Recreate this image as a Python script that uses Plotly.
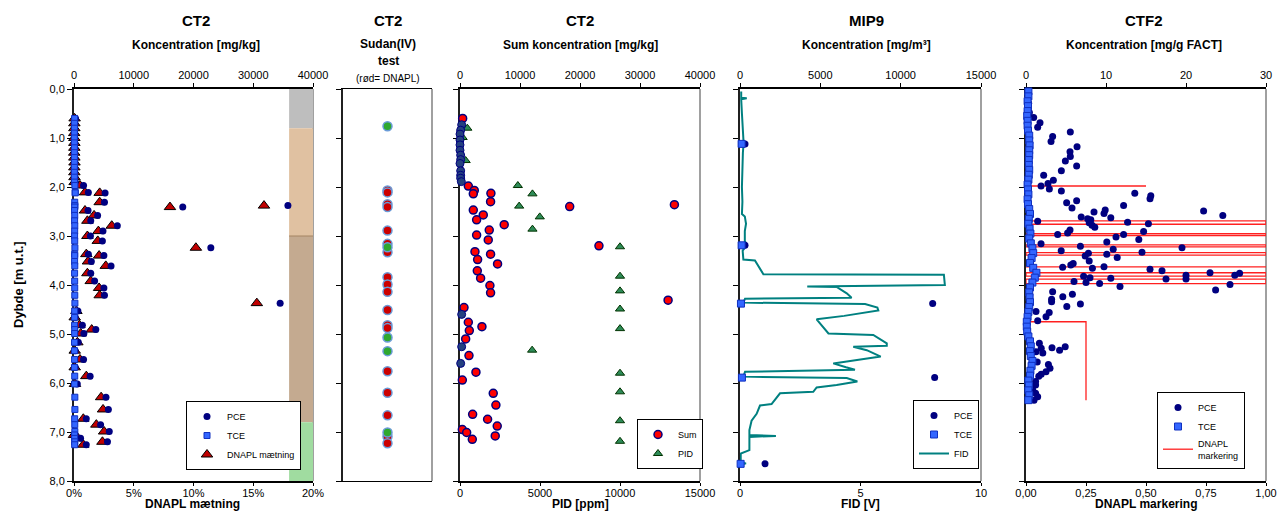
import plotly.graph_objects as go

FONT = "Liberation Sans, Arial, sans-serif"

# ---------------- Panel 1 : CT2 concentration / DNAPL saturation ----------------
ct2_depth = [0.60, 0.70, 0.80, 0.90, 1.00, 1.10, 1.20, 1.30, 1.40, 1.50, 1.60, 1.70, 1.80, 1.90,
             1.97, 2.11, 2.12, 2.31, 2.38, 2.41, 2.48, 2.58, 2.69, 2.79, 2.90, 3.00, 3.10, 3.24,
             3.37, 3.40, 3.52, 3.61, 3.76, 3.92, 4.06, 4.21, 4.37, 4.53, 4.66, 4.82, 4.91, 4.99,
             5.17, 5.34, 5.52, 5.68, 5.86, 6.02, 6.29, 6.54, 6.73, 6.85, 6.99, 7.06, 7.13, 7.20, 7.26]
ct2_dnapl_pct = [0.05, 0.03, 0.03, 0.02, 0.03, 0.03, 0.03, 0.02, 0.03, 0.04, 0.03, 0.03, 0.04, 0.05,
                 0.50, 0.92, 2.15, 2.15, 15.9, 8.03, 0.92, 1.68, 1.12, 3.16, 2.04, 1.12, 1.99, 10.2,
                 1.03, 2.10, 1.17, 2.66, 1.12, 1.40, 2.10, 2.15, 15.3, 0.20, 0.06, 0.45, 1.48, 0.56,
                 0.28, 0.06, 0.50, 0.06, 1.03, 0.08, 2.27, 2.43, 0.78, 1.87, 2.52, 0.00, 0.34, 2.38, 0.78]
ct2_pce = [250, 150, 120, 100, 120, 130, 120, 110, 120, 150, 130, 120, 150, 200,
           1600, 2400, 5200, 5100, 35800, 18200, 2350, 3950, 2800, 7250, 4850, 2750, 4750, 22900,
           2400, 5000, 2900, 6200, 2800, 3450, 5000, 5100, 34500, 650, 200, 1400, 3650, 1650,
           720, 200, 1600, 200, 2700, 550, 5350, 5750, 2050, 4450, 5900, 150, 1100, 5600, 2050]
ct2_tce = [100, 80, 80, 60, 60, 60, 70, 60, 70, 70, 60, 60, 70, 80,
           150, 200, 200, 120, 150, 120, 100, 120, 100, 130, 110, 100, 120, 150,
           110, 120, 100, 130, 100, 110, 120, 130, 150, 110, 90, 100, 120, 110,
           90, 80, 100, 80, 120, 90, 140, 150, 110, 130, 140, 90, 100, 130, 110]

soil_top = [0.0, 0.8, 3.0, 6.8]
soil_bottom = [0.8, 3.0, 6.8, 8.0]
soil_colors = ["#BEBEBE", "#E0C1A1", "#C4AA90", "#A0DCA0"]

ct2_top_ticks = [0, 10000, 20000, 30000, 40000]
ct2_top_text = ["0", "10000", "20000", "30000", "40000"]
pct_ticks = [0, 5, 10, 15, 20]
pct_text = ["0%", "5%", "10%", "15%", "20%"]
depth_ticks = [0, 1, 2, 3, 4, 5, 6, 7, 8]
depth_text = ["0,0", "1,0", "2,0", "3,0", "4,0", "5,0", "6,0", "7,0", "8,0"]

# ---------------- Panel 2 : Sudan(IV) test ----------------
sudan_depth = [0.76, 2.07, 2.11, 2.35, 2.41, 2.89, 3.16, 3.23, 3.33, 3.84, 3.99, 4.14, 4.51,
               4.82, 4.88, 5.07, 5.35, 5.76, 6.20, 6.66, 7.01, 7.09, 7.23]
sudan_result = ["grøn", "rød", "rød", "rød", "rød", "rød", "rød", "grøn", "rød", "rød", "rød", "rød", "rød",
                "rød", "rød", "grøn", "grøn", "rød", "rød", "rød", "grøn", "rød", "rød"]

# ---------------- Panel 3 : CT2 sum concentration / PID ----------------
sum_depth = [0.60, 1.98, 2.07, 2.13, 2.14, 2.30, 2.36, 2.40, 2.47, 2.57, 2.67, 2.77, 2.88, 2.98,
             3.08, 3.20, 3.32, 3.37, 3.48, 3.57, 3.71, 3.86, 4.01, 4.16, 4.31, 4.46, 4.76, 4.85,
             4.93, 5.10, 5.44, 5.78, 5.94, 6.21, 6.45, 6.64, 6.74, 6.88, 6.95, 7.01, 7.08, 7.15]
sum_conc = [443, 1385, 2382, 5152, 2216, 5097, 35734, 18283, 2216, 3878, 2770, 7368, 4875, 2770,
            4709, 23158, 2493, 5097, 2936, 6260, 2881, 3435, 4986, 5097, 34682, 665, 1385, 3656,
            1551, 942, 1496, 2659, 388, 5540, 5983, 2105, 4598, 6205, 388, 1108, 5873, 2050]
sum_low_depth = [0.73, 0.84, 0.92, 1.04, 1.14, 1.25, 1.35, 1.44, 1.52, 1.67, 1.76, 1.82, 1.89,
                 4.60, 5.26, 5.60]
sum_low_conc = [277, 111, 0, 0, 0, 0, 111, 111, 0, 111, 111, 111, 222, 277, 277, 111]
pid_depth = [0.80, 0.99, 1.46, 1.97, 2.14, 2.39, 2.61, 2.86, 3.22, 3.82, 4.12, 4.49, 4.89,
             5.33, 5.80, 6.18, 6.77, 7.19]
pid_ppm = [457, 166, 353, 3615, 4529, 3698, 4986, 4529, 10000, 10000, 10000, 10000, 10000,
           4508, 10000, 10000, 10000, 10000]
pid_ticks = [0, 5000, 10000, 15000]
pid_text = ["0", "5000", "10000", "15000"]

# ---------------- Panel 4 : MIP9 ----------------
mip_depth = [1.12, 3.19, 4.38, 5.89, 7.65]
mip_pce = [311, 311, 11992, 12116, 1556]
mip_tce = [100, 100, 60, 120, 40]
fid_depth = [0.05, 0.18, 0.19, 0.21, 0.50, 0.90, 1.10, 1.30, 1.60, 2.00, 2.30, 2.55, 2.60, 2.75,
             2.90, 3.10, 3.18, 3.30, 3.48, 3.50, 3.78, 3.79, 4.00, 4.03, 4.04, 4.17, 4.26, 4.28,
             4.36, 4.39, 4.46, 4.52, 4.63, 4.70, 4.99, 5.02, 5.19, 5.24, 5.26, 5.33, 5.46, 5.60,
             5.68, 5.73, 5.77, 5.87, 5.90, 5.97, 6.04, 6.09, 6.18, 6.21, 6.43, 6.46, 6.63, 6.77,
             6.96, 7.06, 7.08, 7.10, 7.37, 7.44, 7.62, 7.64, 7.67]
fid_volt = [0.05, 0.05, 0.28, 0.05, 0.08, 0.12, 0.15, 0.12, 0.10, 0.08, 0.10, 0.08, 0.20, 0.25,
            0.20, 0.20, 0.28, 0.11, 0.14, 0.62, 0.97, 8.46, 8.50, 2.79, 4.01, 4.43, 4.63, 0.21,
            0.14, 5.19, 5.70, 5.74, 4.32, 3.18, 3.67, 5.53, 6.09, 6.09, 4.70, 5.26, 5.84, 3.87,
            4.40, 4.77, 0.21, 0.14, 4.43, 4.87, 4.01, 3.18, 3.04, 1.66, 1.31, 0.83, 0.69, 0.48,
            0.39, 0.39, 1.49, 0.39, 0.39, 0.03, 0.03, 0.25, 0.03]
mip_top_ticks = [0, 5000, 10000, 15000]
mip_top_text = ["0", "5000", "10000", "15000"]
fid_ticks = [0, 5, 10]
fid_text = ["0", "5", "10"]

# ---------------- Panel 5 : CTF2 ----------------
ctf_pce_depth = [0.29, 0.48, 0.58, 0.69, 0.78, 0.88, 0.97, 1.07, 1.18, 1.28, 1.38, 1.47, 1.57, 1.67,
                 1.76, 1.86, 1.93, 1.98, 2.04, 2.08, 2.13, 2.18, 2.24, 2.28, 2.32, 2.38, 2.43, 2.47,
                 2.49, 2.51, 2.54, 2.58, 2.61, 2.63, 2.65, 2.67, 2.70, 2.72, 2.73, 2.75, 2.78, 2.82,
                 2.88, 2.91, 2.94, 2.97, 2.97, 3.02, 3.07, 3.12, 3.16, 3.21, 3.24, 3.27, 3.30, 3.33,
                 3.35, 3.37, 3.41, 3.44, 3.51, 3.56, 3.59, 3.63, 3.64, 3.66, 3.68, 3.71, 3.75, 3.76,
                 3.80, 3.80, 3.82, 3.85, 3.86, 3.88, 3.88, 3.93, 3.95, 3.97, 3.99, 4.03, 4.10, 4.14,
                 4.19, 4.24, 4.29, 4.34, 4.39, 4.44, 4.54, 4.56, 4.65, 4.73, 5.19, 5.26, 5.28, 5.29,
                 5.33, 5.36, 5.39, 5.57, 5.62, 5.70, 5.77, 5.82, 5.86, 5.97, 6.04, 6.14, 6.21, 6.28, 6.35]
ctf_pce = [0.33, 0.42, 0.96, 1.75, 1.46, 5.54, 3.33, 3.13, 6.38, 5.50, 5.54, 4.92, 6.33, 4.42,
           2.21, 3.42, 2.75, 1.88, 2.92, 4.42, 13.6, 15.6, 15.5, 6.33, 5.08, 12.2, 5.75, 9.9,
           22.2, 8.5, 9.75, 24.6, 6.9, 10.6, 7.7, 8.1, 1.46, 12.7, 7.9, 15.3, 8.25, 8.6,
           5.5, 14.7, 5.2, 3.96, 12.2, 11.25, 14.1, 10.1, 1.88, 6.8, 19.5, 10.9, 4.4, 14.5,
           7.8, 10.1, 7.4, 11.4, 7.9, 5.9, 5.6, 9.75, 4.58, 8.3, 15.5, 17.0, 23.0, 26.7,
           20.0, 26.1, 7.2, 8.0, 10.6, 20.0, 17.5, 6.0, 7.5, 9.2, 25.5, 11.75, 23.7, 3.33,
           5.8, 4.6, 3.2, 3.2, 6.8, 5.1, 1.25, 2.9, 2.5, 1.46, 1.67, 4.9, 3.25, 1.9,
           4.2, 1.25, 2.1, 1.4, 2.8, 3.0, 2.5, 1.9, 1.6, 1.2, 1.2, 0.83, 1.2, 1.46, 1.0]
ctf_tce_depth = [0.05, 0.15, 0.25, 0.35, 0.45, 0.55, 0.65, 0.75, 0.85, 0.95, 1.05, 1.15, 1.25, 1.35,
                 1.45, 1.55, 1.65, 1.75, 1.85, 1.95, 2.05, 2.15, 2.25, 2.35, 2.45, 2.55, 2.65, 2.75,
                 2.85, 2.95, 3.05, 3.15, 3.25, 3.35, 3.45, 3.55, 3.65, 3.75, 3.85, 3.95, 4.05, 4.15,
                 4.25, 4.35, 4.45, 4.55, 4.65, 4.75, 4.85, 4.95, 5.05, 5.15, 5.25, 5.35, 5.45, 5.55,
                 5.65, 5.75, 5.85, 5.95, 6.05, 6.15, 6.25, 6.35]
ctf_tce = [0.30, 0.30, 0.20, 0.25, 0.20, 0.15, 0.20, 0.20, 0.25, 0.40, 0.40, 0.45, 0.40, 0.40,
           0.35, 0.35, 0.40, 0.35, 0.30, 0.20, 0.25, 0.30, 0.20, 0.25, 0.40, 0.50, 0.35, 0.30,
           0.45, 0.55, 0.40, 0.60, 0.80, 0.90, 0.70, 0.50, 0.90, 1.30, 1.10, 0.80, 0.50, 0.40,
           0.45, 0.50, 0.40, 0.30, 0.20, 0.10, 0.10, 0.15, 0.30, 0.50, 0.60, 0.50, 0.60, 0.80,
           0.70, 0.55, 0.50, 0.30, 0.35, 0.30, 0.40, 0.30]
mark_value = [0, 0.5, None,
              0, 1, 1, 0, 0, None,
              0, 1, 1, 0, 0, None,
              0, 1, 1, 0, 0, None,
              0, 1, 1, 0, 0, None,
              0, 1, None,
              0, 1, 1, 0, 0, None,
              0, 1, 1, 0, 0, None,
              0, 0.25, 0.25]
mark_depth = [1.98, 1.98, None,
              2.69, 2.69, 2.76, 2.76, 2.69, None,
              2.95, 2.95, 2.99, 2.99, 2.95, None,
              3.18, 3.18, 3.22, 3.22, 3.18, None,
              3.34, 3.34, 3.39, 3.39, 3.34, None,
              3.63, 3.63, None,
              3.75, 3.75, 3.82, 3.82, 3.75, None,
              3.88, 3.88, 3.97, 3.97, 3.88, None,
              4.75, 4.75, 6.35]
ctf_top_ticks = [0, 10, 20, 30]
ctf_top_text = ["0", "10", "20", "30"]
mark_ticks = [0, 0.25, 0.5, 0.75, 1.0]
mark_text = ["0,00", "0,25", "0,50", "0,75", "1,00"]

# ---------------- layout geometry ----------------
W, H = 1278, 512
panels_px = [(74, 313), (343, 432), (460, 700), (740, 981), (1026, 1266)]
y_dom = [1 - 481 / H, 1 - 89 / H]

NAVY = "#000080"
TCE_FILL = "#3366FF"
TCE_LINE = "#1030C0"

fig = go.Figure()


def xb(i):
    return "x" if i == 1 else f"x{2 * i - 1}"


def xt(i):
    return f"x{2 * i}"


def yn(i):
    return "y" if i == 1 else f"y{i}"


# Panel 1
fig.add_trace(go.Scatter(x=ct2_pce, y=ct2_depth, xaxis=xt(1), yaxis=yn(1), mode="markers", name="PCE",
                         marker=dict(symbol="circle", size=7, color=NAVY), legend="legend", cliponaxis=False))
fig.add_trace(go.Scatter(x=ct2_tce, y=ct2_depth, xaxis=xt(1), yaxis=yn(1), mode="markers", name="TCE",
                         marker=dict(symbol="square", size=6, color=TCE_FILL, line=dict(color=TCE_LINE, width=1)),
                         legend="legend", cliponaxis=False))
fig.add_trace(go.Scatter(x=ct2_dnapl_pct, y=ct2_depth, xaxis=xb(1), yaxis=yn(1), mode="markers",
                         name="DNAPL mætning",
                         marker=dict(symbol="triangle-up", size=10, color="#C00000", line=dict(color="black", width=1)),
                         legend="legend", cliponaxis=False))

# Panel 2
red_d = [d for d, r in zip(sudan_depth, sudan_result) if r == "rød"]
green_d = [d for d, r in zip(sudan_depth, sudan_result) if r == "grøn"]
fig.add_trace(go.Scatter(x=["test"] * len(red_d), y=red_d, xaxis=xb(2), yaxis=yn(2), mode="markers",
                         marker=dict(size=9, color="#CC0000", line=dict(color="#6A9BD8", width=1.5)),
                         showlegend=False))
fig.add_trace(go.Scatter(x=["test"] * len(green_d), y=green_d, xaxis=xb(2), yaxis=yn(2), mode="markers",
                         marker=dict(size=9, color="#2FA82F", line=dict(color="#6A9BD8", width=1.5)),
                         showlegend=False))

# Panel 3
fig.add_trace(go.Scatter(x=sum_conc, y=sum_depth, xaxis=xt(3), yaxis=yn(3), mode="markers", name="Sum",
                         marker=dict(size=8, color="#FF0000", line=dict(color=NAVY, width=1.5)),
                         legend="legend2", cliponaxis=False))
fig.add_trace(go.Scatter(x=sum_low_conc, y=sum_low_depth, xaxis=xt(3), yaxis=yn(3), mode="markers",
                         marker=dict(size=8, color="#24407F", line=dict(color=NAVY, width=1)),
                         showlegend=False, cliponaxis=False))
fig.add_trace(go.Scatter(x=pid_ppm, y=pid_depth, xaxis=xb(3), yaxis=yn(3), mode="markers", name="PID",
                         marker=dict(symbol="triangle-up", size=8, color="#2E8B57", line=dict(color="#003300", width=1)),
                         legend="legend2", cliponaxis=False))

# Panel 4
fig.add_trace(go.Scatter(x=fid_volt, y=fid_depth, xaxis=xb(4), yaxis=yn(4), mode="lines", name="FID",
                         line=dict(color="#008080", width=2), legend="legend3", legendrank=3, cliponaxis=False))
fig.add_trace(go.Scatter(x=mip_pce, y=mip_depth, xaxis=xt(4), yaxis=yn(4), mode="markers", name="PCE",
                         marker=dict(size=7, color=NAVY), legend="legend3", legendrank=1, cliponaxis=False))
fig.add_trace(go.Scatter(x=mip_tce, y=mip_depth, xaxis=xt(4), yaxis=yn(4), mode="markers", name="TCE",
                         marker=dict(symbol="square", size=7, color=TCE_FILL, line=dict(color=TCE_LINE, width=1)),
                         legend="legend3", legendrank=2, cliponaxis=False))

# Panel 5
fig.add_trace(go.Scatter(x=ctf_pce, y=ctf_pce_depth, xaxis=xt(5), yaxis=yn(5), mode="markers", name="PCE",
                         marker=dict(size=7, color=NAVY), legend="legend4", legendrank=1, cliponaxis=False))
fig.add_trace(go.Scatter(x=ctf_tce, y=ctf_tce_depth, xaxis=xt(5), yaxis=yn(5), mode="markers", name="TCE",
                         marker=dict(symbol="square", size=7, color=TCE_FILL, line=dict(color=TCE_LINE, width=1)),
                         legend="legend4", legendrank=2, cliponaxis=False))
fig.add_trace(go.Scatter(x=mark_value, y=mark_depth, xaxis=xb(5), yaxis=yn(5), mode="lines",
                         name="DNAPL<br>markering", line=dict(color="#FF2020", width=1.3),
                         legend="legend4", legendrank=3, connectgaps=False, cliponaxis=False))

# ---------------- axes ----------------
tickfont = dict(family=FONT, size=11, color="black")
bottom_cfg = {
    1: (pct_ticks, pct_text, [0, 20]),
    2: (None, None, [-1, 1]),
    3: (pid_ticks, pid_text, [0, 15000]),
    4: (fid_ticks, fid_text, [0, 10]),
    5: (mark_ticks, mark_text, [0, 1]),
}
top_cfg = {
    1: (ct2_top_ticks, ct2_top_text, [0, 40000]),
    2: (None, None, [-1, 1]),
    3: (ct2_top_ticks, ct2_top_text, [0, 40000]),
    4: (mip_top_ticks, mip_top_text, [0, 15000]),
    5: (ctf_top_ticks, ctf_top_text, [0, 30]),
}

layout_axes = {}
shapes = []
for i, (p0, p1) in enumerate(panels_px, start=1):
    dom = [p0 / W, p1 / W]
    ykey = "yaxis" if i == 1 else f"yaxis{i}"
    xbkey = "xaxis" if i == 1 else f"xaxis{2 * i - 1}"
    xtkey = f"xaxis{2 * i}"
    layout_axes[ykey] = dict(
        domain=y_dom, range=[8, 0], anchor=xb(i), tickvals=depth_ticks, ticktext=depth_text,
        showticklabels=(i == 1), ticks="outside", ticklen=5, tickwidth=1, tickcolor="black",
        showline=True, linecolor="#202020", linewidth=2, showgrid=False, zeroline=False,
        layer="below traces", tickfont=tickfont, fixedrange=True, automargin=False,
    )
    bt, btx, brng = bottom_cfg[i]
    xb_ax = dict(
        domain=dom, anchor=yn(i), side="bottom", range=brng, showline=True, linecolor="black",
        linewidth=1.5, showgrid=False, zeroline=False, layer="below traces", tickfont=tickfont,
        ticks="outside" if bt is not None else "", ticklen=3, tickcolor="black", automargin=False,
        ticklabelstandoff=-2,
    )
    if i == 2:
        xb_ax.update(type="category", showticklabels=False, mirror=True, linewidth=1)
    else:
        xb_ax.update(tickvals=bt, ticktext=btx)
    layout_axes[xbkey] = xb_ax
    tt, ttx, trng = top_cfg[i]
    xt_ax = dict(
        overlaying=xb(i), anchor=yn(i), side="top", range=trng, showgrid=False, zeroline=False,
        layer="below traces", tickfont=tickfont, automargin=False,
    )
    if i == 2:
        xt_ax.update(showline=False, showticklabels=False, ticks="")
    else:
        xt_ax.update(showline=True, linecolor="black", linewidth=1.5, tickvals=tt, ticktext=ttx,
                     ticks="outside", ticklen=4, tickcolor="black")
    layout_axes[xtkey] = xt_ax
    # right-hand frame line
    shapes.append(dict(type="line", xref=f"{xb(i)} domain", yref=f"{yn(i)} domain", x0=1, x1=1, y0=0, y1=1,
                       line=dict(color="#808080", width=1.5), layer="below"))

# soil layers in panel 1 (right edge, 18-20 %)
for t, b, c in zip(soil_top, soil_bottom, soil_colors):
    shapes.append(dict(type="rect", xref="x", yref="y", x0=18, x1=20, y0=t, y1=b,
                       fillcolor=c, line=dict(width=0), layer="below"))
shapes.append(dict(type="line", xref="x", yref="y", x0=18, x1=20, y0=soil_top[2], y1=soil_top[2],
                   line=dict(color="#A58463", width=1), layer="below"))

# ---------------- annotations ----------------
def ann(text, xpx, ypx, size=12, bold=True, angle=0, yanchor="middle", pad=1):
    return dict(text=f"<b>{text}</b>" if bold else text, x=xpx / W, y=1 - ypx / H, xref="paper", yref="paper",
                showarrow=False, xanchor="center", yanchor=yanchor, textangle=angle, borderpad=pad,
                font=dict(family=FONT, size=size, color="black"))


annotations = [
    ann("CT2", 196, 20, 15), ann("Koncentration [mg/kg]", 196, 45, 12),
    ann("CT2", 388, 20, 15), ann("Sudan(IV)", 388, 44, 12), ann("test", 388, 61, 12),
    ann("(rød= DNAPL)", 388, 78, 10, bold=False),
    ann("CT2", 580, 20, 15), ann("Sum koncentration [mg/kg]", 580, 45, 12),
    ann("MIP9", 866, 20, 15), ann("Koncentration [mg/m³]", 866, 45, 12),
    ann("CTF2", 1144, 20, 15), ann("Koncentration [mg/g FACT]", 1144, 45, 12),
    ann("DNAPL mætning", 193, 512, 12, yanchor="bottom", pad=0),
    ann("PID [ppm]", 580, 512, 12, yanchor="bottom", pad=0),
    ann("FID [V]", 860, 512, 12, yanchor="bottom", pad=0),
    ann("DNAPL markering", 1146, 512, 12, yanchor="bottom", pad=0),
    ann("Dybde [m u.t.]", 18, 285, 13, angle=-90),
]

legend_common = dict(bgcolor="white", bordercolor="black", borderwidth=1, xanchor="left", yanchor="bottom",
                     font=dict(family=FONT, size=9, color="black"), itemwidth=30, tracegroupgap=0,
                     traceorder="normal")

fig.update_layout(
    width=W, height=H, autosize=False, margin=dict(l=0, r=0, t=0, b=0, pad=0, autoexpand=False),
    paper_bgcolor="white", plot_bgcolor="white",
    font=dict(family=FONT, size=11, color="black"),
    shapes=shapes, annotations=annotations,
    legend=dict(x=186 / W, y=1 - 470 / H, **legend_common),
    legend2=dict(x=637 / W, y=1 - 469 / H, **legend_common),
    legend3=dict(x=913 / W, y=1 - 469 / H, **legend_common),
    legend4=dict(x=1157 / W, y=1 - 469 / H, **legend_common),
    **layout_axes,
)

fig.write_html("out.html", config={"displayModeBar": False},
               post_script="document.body.style.margin='0';document.body.style.padding='0';"
                           "document.body.style.overflow='hidden';")
